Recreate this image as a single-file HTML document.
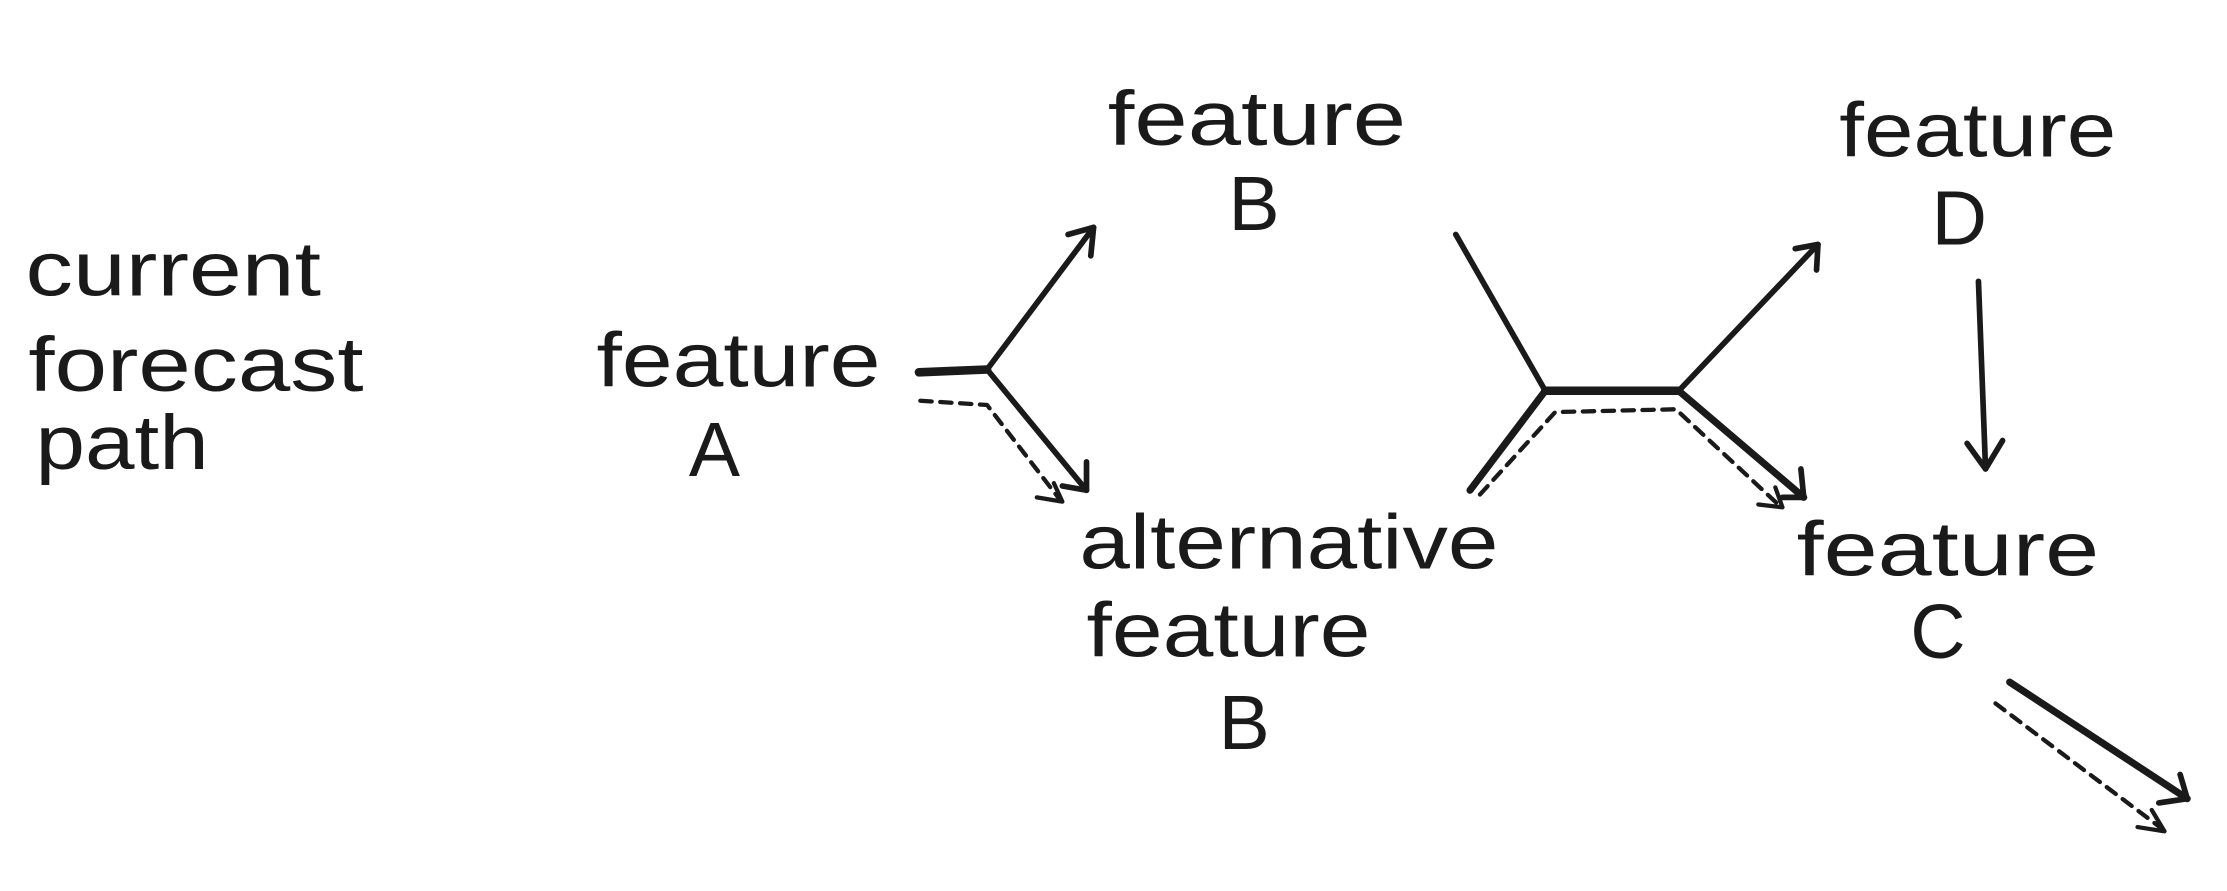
<!DOCTYPE html>
<html><head><meta charset="utf-8"><style>
html,body{margin:0;padding:0;background:#fff;}
svg{display:block}
text{font-family:"Liberation Sans",sans-serif;fill:#1a1a1a;}
</style></head><body>
<svg width="2227" height="891" viewBox="0 0 1568 627" preserveAspectRatio="none" xmlns="http://www.w3.org/2000/svg">
<rect width="1568" height="627" fill="#fff"/>
<g font-size="54">
<text x="18" y="208" textLength="208" lengthAdjust="spacingAndGlyphs">current</text>
<text x="20" y="275" textLength="236" lengthAdjust="spacingAndGlyphs">forecast</text>
<text x="25" y="330" textLength="122" lengthAdjust="spacingAndGlyphs">path</text>
<text x="420" y="272" textLength="200" lengthAdjust="spacingAndGlyphs">feature</text>
<text x="485" y="335">A</text>
<text x="780" y="102" textLength="210" lengthAdjust="spacingAndGlyphs">feature</text>
<text x="865" y="162">B</text>
<text x="1295" y="110" textLength="195" lengthAdjust="spacingAndGlyphs">feature</text>
<text x="1360" y="172">D</text>
<text x="760" y="400" textLength="295" lengthAdjust="spacingAndGlyphs">alternative</text>
<text x="765" y="462" textLength="200" lengthAdjust="spacingAndGlyphs">feature</text>
<text x="858" y="527">B</text>
<text x="1265" y="405" textLength="213" lengthAdjust="spacingAndGlyphs">feature</text>
<text x="1345" y="463">C</text>
</g>
<g stroke="#1a1a1a" fill="none" stroke-linecap="round" stroke-linejoin="round">
<path d="M647 262 L695 260" stroke-width="6"/>
<path d="M695 260 L770 160" stroke-width="4"/>
<path d="M752 165 L770 160 L768 180" stroke-width="4"/>
<path d="M695 260 L765 345" stroke-width="4"/>
<path d="M748 342 L765 345 L765 325" stroke-width="4"/>
<path d="M648 282 L695 285 L745 350" stroke-width="3" stroke-dasharray="8 6"/>
<path d="M730 350 L748 353 L742 340" stroke-width="3"/>
<path d="M1025 165 L1088 275" stroke-width="4"/>
<path d="M1088 275 L1182 275" stroke-width="6"/>
<path d="M1182 275 L1280 172" stroke-width="4"/>
<path d="M1264 175 L1280 172 L1279 190" stroke-width="4"/>
<path d="M1182 275 L1270 350" stroke-width="5"/>
<path d="M1255 350 L1270 350 L1268 330" stroke-width="4"/>
<path d="M1088 275 L1035 345" stroke-width="5"/>
<path d="M1042 348 L1095 290 L1180 288 L1252 355" stroke-width="3" stroke-dasharray="8 6"/>
<path d="M1238 355 L1255 357 L1250 343" stroke-width="3"/>
<path d="M1393 198 L1398 330" stroke-width="4"/>
<path d="M1385 312 L1398 330 L1410 310" stroke-width="4"/>
<path d="M1415 480 L1540 562" stroke-width="5"/>
<path d="M1520 565 L1540 562 L1535 545" stroke-width="4"/>
<path d="M1405 495 L1522 583" stroke-width="3" stroke-dasharray="8 6"/>
<path d="M1505 582 L1524 585 L1515 570" stroke-width="3"/>
</g>
</svg>
</body></html>
